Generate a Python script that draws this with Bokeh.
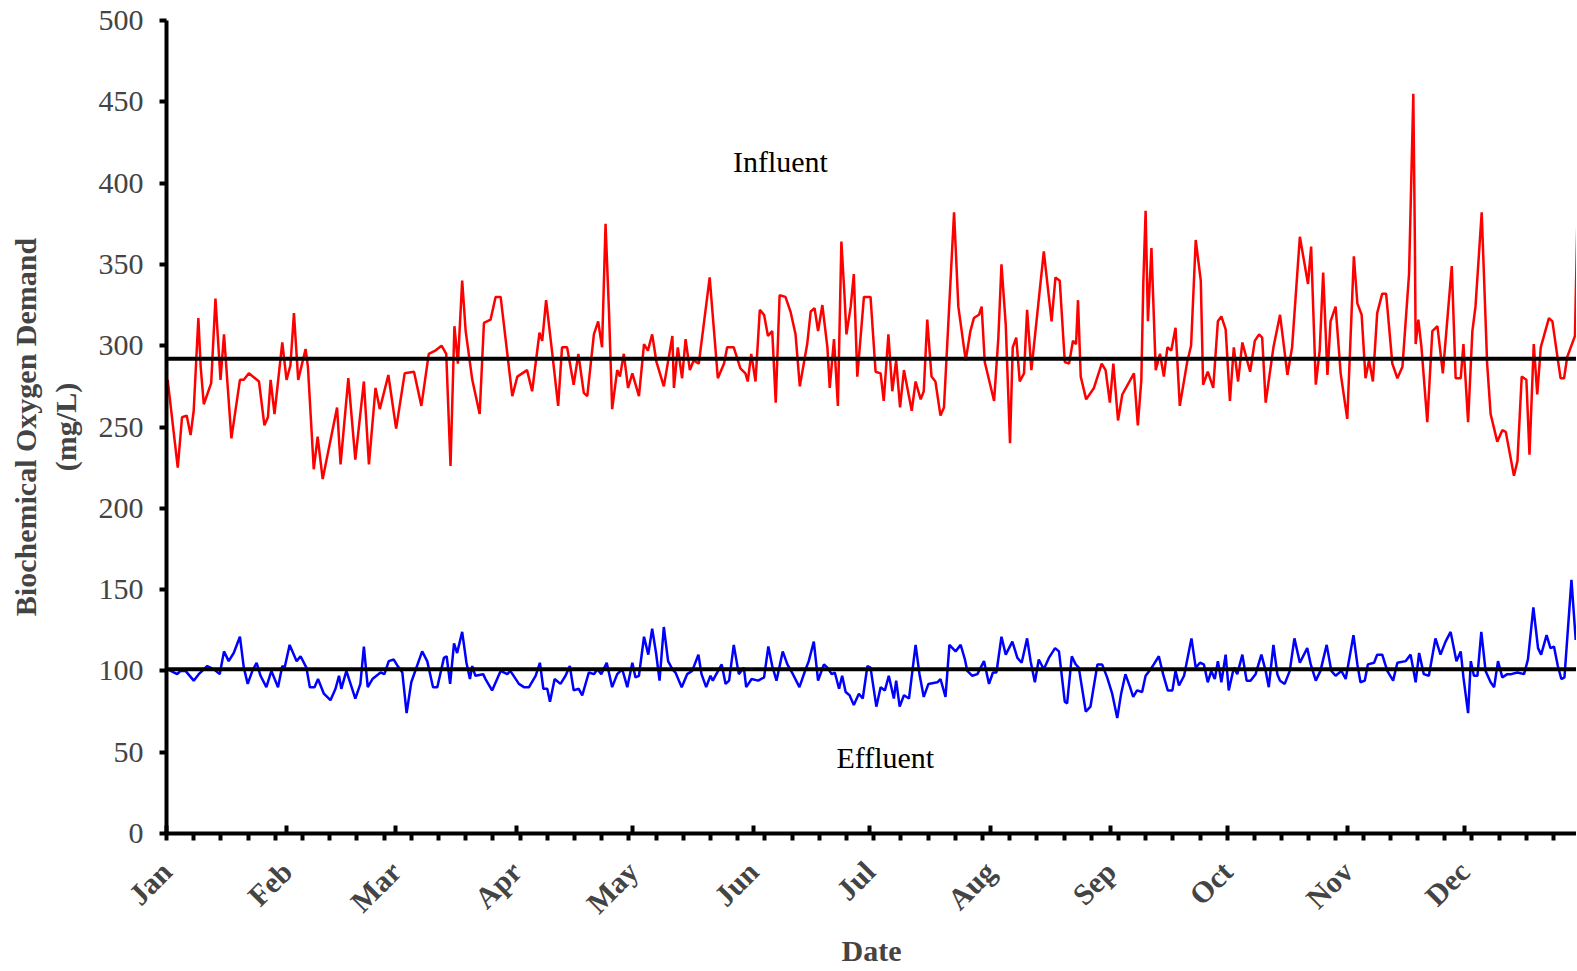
import math
from bokeh.plotting import figure
from bokeh.models import FixedTicker, Span, Label, Range1d
from bokeh.embed import file_html
from bokeh.resources import INLINE

months = ["Jan", "Feb", "Mar", "Apr", "May", "Jun", "Jul", "Aug", "Sep", "Oct", "Nov", "Dec"]
month_start_days = [0, 31, 59, 90, 120, 151, 181, 212, 243, 273, 304, 334]
week_days = list(range(0, 365, 7))
y_ticks = list(range(0, 501, 50))

influent_mean = 292
effluent_mean = 101

influent_day = [
    0.3, 2.9, 4.0, 5.2, 6.2, 7.0, 8.2, 8.8, 9.6, 11.5, 12.6, 13.9, 14.8, 16.7, 18.9, 19.9,
    21.2, 23.8, 25.2, 26.1, 26.8, 27.8, 29.8, 30.9, 31.9, 32.8, 33.9, 35.8, 36.4, 37.9, 38.9,
    40.2, 43.9, 44.8, 46.8, 48.6, 50.8, 52.1, 53.8, 54.9, 57.1, 59.1, 61.3, 63.7, 65.6, 67.5,
    69.2, 70.8, 72.0, 73.1, 74.1, 75.0, 76.1, 77.0, 78.7, 80.6, 81.7, 83.4, 84.7, 86.0, 89.0,
    90.3, 92.8, 94.1, 96.0, 96.7, 97.7, 99.3, 100.8, 101.8, 103.1, 104.8, 106.0, 107.4, 108.3,
    110.0, 111.1, 112.1, 113.0, 113.9, 114.7, 116.0, 116.7, 117.7, 118.8, 119.9, 121.6, 122.9,
    123.9, 125.0, 126.1, 128.0, 129.0, 130.2, 130.6, 131.6, 132.7, 133.6, 134.7, 135.7, 137.0,
    139.8, 141.9, 143.5, 144.3, 146.0, 147.7, 149.0, 149.6, 150.5, 151.6, 152.7, 153.8, 154.8,
    155.9, 156.8, 157.8, 159.3, 160.6, 161.9, 163.0, 164.9, 165.8, 166.8, 167.7, 168.8, 170.1,
    170.7, 171.8, 172.8, 173.7, 174.5, 175.0, 176.1, 176.9, 177.8, 179.5, 181.2, 182.5, 183.8,
    184.6, 185.8, 186.8, 187.8, 188.8, 189.8, 191.8, 192.8, 194.1, 194.9, 195.8, 196.9, 197.9,
    199.2, 200.1, 202.7, 203.1, 203.8, 205.7, 206.9, 207.8, 209.1, 209.8, 210.6, 213.0, 214.1,
    214.9, 216.0, 217.1, 217.8, 218.7, 219.6, 220.7, 221.5, 222.6, 225.8, 227.8, 228.8, 229.9,
    231.2, 232.3, 233.3, 234.1, 234.6, 235.3, 236.7, 238.7, 240.7, 241.7, 242.8, 243.7, 244.9,
    246.0, 249.0, 250.0, 250.9, 251.4, 252.0, 252.6, 253.5, 254.6, 255.7, 256.7, 257.6, 258.6,
    259.7, 260.8, 262.7, 263.7, 264.9, 266.2, 266.8, 268.0, 269.4, 270.6, 271.5, 272.6, 273.7,
    274.7, 275.8, 276.9, 278.9, 280.1, 281.2, 282.0, 282.9, 284.9, 286.6, 288.5, 289.7, 291.7,
    293.8, 294.6, 295.8, 296.8, 297.7, 298.8, 299.6, 300.9, 302.2, 303.9, 305.6, 306.5, 307.6,
    308.6, 309.5, 310.5, 311.6, 312.9, 313.9, 315.5, 316.8, 318.1, 319.8, 320.9, 321.3, 321.5,
    322.2, 323.0, 324.5, 325.8, 327.1, 328.5, 330.8, 331.8, 333.1, 333.8, 335.0, 336.1, 336.9,
    338.5, 339.9, 340.8, 342.5, 343.8, 344.7, 346.8, 347.7, 348.8, 350.0, 350.8, 351.9, 352.8,
    353.7, 355.8, 356.7, 358.0, 358.8, 359.7, 360.5, 362.5, 363.4,
]
influent_bod = [
    279, 225, 256, 257, 245, 260, 317, 287, 264, 277, 329, 279, 307, 243, 279, 279,
    283, 278, 251, 256, 279, 258, 302, 279, 288, 320, 279, 298, 287, 224, 244,
    218, 262, 227, 280, 230, 278, 227, 274, 261, 282, 249, 283, 284, 263, 295,
    297, 300, 295, 226, 312, 289, 340, 309, 279, 258, 314, 316, 330, 330, 269,
    281, 285, 272, 308, 303, 328, 295, 263, 299, 299, 276, 295, 271, 269,
    307, 315, 299, 375, 320, 261, 285, 281, 295, 274, 283, 269, 301,
    297, 307, 290, 275, 289, 306, 274, 299, 280, 304, 285, 291, 289,
    342, 280, 289, 299, 299, 286, 283, 278, 295, 278, 322, 319, 306,
    309, 265, 331, 330, 321, 307, 275, 301, 321, 323, 309, 325, 299,
    274, 304, 263, 364, 331, 307, 324, 344, 281, 330, 330, 284, 283,
    266, 307, 272, 291, 262, 285, 260, 278, 267, 272, 316, 281, 278,
    257, 262, 382, 361, 324, 291, 309, 317, 319, 324, 290, 266, 305,
    350, 313, 240, 299, 305, 278, 283, 322, 285, 358, 315, 342, 340,
    290, 289, 303, 301, 328, 281, 267, 274, 289, 285, 265, 289, 254,
    270, 283, 251, 279, 338, 383, 315, 360, 285, 295, 281, 299, 297,
    311, 263, 290, 300, 365, 340, 276, 284, 274, 315, 318, 310, 266,
    299, 278, 302, 284, 303, 307, 305, 265, 299, 319, 282, 299, 367,
    338, 361, 276, 297, 345, 282, 315, 324, 283, 255, 355, 326, 319,
    280, 291, 278, 320, 332, 332, 289, 280, 287, 344, 455, 365, 301,
    316, 299, 253, 309, 312, 283, 349, 280, 280, 301, 253, 309, 324,
    382, 289, 258, 241, 248, 247, 220, 229, 281, 279, 233, 301, 270,
    299, 317, 315, 293, 280, 280, 293, 306, 408,
]

effluent_day = [
    0.3, 2.75, 3.6, 4.9, 7.0, 8.3, 10.5, 12.2, 13.7, 14.8, 16.0, 17.3, 18.9, 19.9, 20.9,
    22.1, 23.2, 24.2, 25.7, 27.0, 28.7, 29.8, 30.4, 31.7, 33.5, 34.5, 36.0, 36.9, 38.1, 39.0,
    40.5, 42.2, 43.5, 44.4, 45.0, 46.3, 48.6, 49.9, 50.8, 51.8, 53.0, 55.1, 56.1, 57.2, 58.5,
    59.5, 60.7, 61.8, 63.0, 65.8, 67.1, 68.6, 69.7, 71.4, 72.1, 73.0, 74.0, 74.8, 76.1, 77.2,
    78.1, 78.7, 79.5, 81.5, 82.1, 83.8, 86.0, 87.7, 88.5, 90.7, 92.0, 93.3, 95.0, 96.1, 97.0,
    98.0, 98.7, 99.9, 101.4, 102.7, 103.8, 104.8, 106.1, 107.0, 108.7, 110.0, 110.9, 111.9,
    113.3, 114.7, 116.0, 117.3, 118.6, 119.9, 120.7, 121.6, 122.9, 124.0, 125.0, 126.0, 126.9,
    128.0, 129.1, 130.2, 131.0, 132.6, 134.0, 135.3, 136.9, 137.7, 138.9, 140.0, 140.6, 141.5,
    142.9, 143.9, 144.8, 146.0, 147.3, 148.6, 149.2, 150.6, 152.3, 153.8, 154.9, 155.9, 157.0,
    158.6, 159.8, 161.0, 162.9, 164.5, 165.3, 166.6, 167.7, 169.2, 170.1, 171.2, 172.0, 173.1,
    173.9, 174.8, 175.8, 176.9, 178.2, 179.2, 180.4, 181.2, 182.7, 183.8, 184.9, 185.9, 187.2,
    187.8, 188.7, 189.8, 191.1, 192.8, 193.8, 194.9, 196.1, 198.4, 199.2, 200.5, 201.5, 203.1,
    204.4, 205.5, 206.1, 207.4, 208.7, 210.4, 211.7, 212.7, 213.6, 214.9, 216.0, 217.7, 219.0,
    220.1, 221.5, 222.4, 223.5, 224.5, 225.8, 227.1, 228.7, 229.7, 231.2, 231.8, 233.0, 234.0,
    234.8, 236.6, 237.8, 239.6, 240.8, 242.1, 243.4, 244.7, 245.7, 246.8, 248.0, 248.8, 249.8,
    251.1, 252.0, 253.3, 254.1, 255.4, 256.5, 257.7, 258.9, 259.7, 260.6, 261.9, 263.8, 264.9,
    266.0, 267.0, 268.0, 268.9, 269.8, 270.6, 271.5, 272.6, 273.4, 274.7, 275.6, 276.9, 278.0,
    279.0, 280.3, 281.8, 282.9, 283.7, 284.9, 285.9, 286.6, 287.8, 289.1, 290.3, 291.7, 293.6,
    294.5, 295.8, 297.0, 298.6, 299.8, 300.9, 302.4, 303.5, 305.5, 306.5, 307.3, 308.4, 309.2,
    310.8, 311.6, 312.9, 314.2, 315.7, 316.8, 318.9, 320.2, 321.5, 322.4, 323.6, 324.9, 326.6,
    327.9, 329.2, 330.5, 332.0, 333.1, 333.8, 335.0, 335.7, 336.5, 337.4, 338.4, 339.5, 340.8,
    341.7, 342.7, 343.8, 345.1, 346.1, 347.7, 349.4, 350.4, 351.8, 353.0, 353.8, 355.2, 356.2,
    357.1, 358.1, 359.0, 359.8, 361.6, 362.7,
]
effluent_bod = [
    101, 98, 100, 100, 94, 98, 103, 101, 98, 112, 106, 111, 121, 102, 92,
    100, 105, 97, 90, 100, 90, 103, 102, 116, 106, 109, 102, 90, 90, 95,
    86, 82, 89, 97, 89, 100, 83, 92, 115, 90, 95, 99, 98, 106, 107,
    103, 99, 74, 93, 112, 106, 90, 90, 108, 109, 92, 117, 111, 124, 105,
    95, 103, 97, 98, 95, 88, 100, 98, 100, 92, 90, 90, 97, 105, 89,
    89, 81, 95, 92, 97, 103, 88, 89, 85, 99, 98, 101, 98,
    105, 90, 98, 101, 90, 105, 96, 97, 121, 110, 126, 111, 94,
    127, 106, 101, 99, 90, 98, 100, 110, 98, 90, 97, 94, 98,
    104, 92, 94, 116, 98, 102, 90, 95, 94, 96, 115, 103, 94,
    112, 104, 99, 90, 101, 106, 118, 94, 104, 102, 98, 99, 89,
    97, 87, 85, 79, 86, 83, 103, 102, 78, 90, 88, 97, 83,
    94, 78, 85, 83, 116, 98, 84, 92, 93, 95, 84, 116, 112,
    116, 107, 100, 97, 98, 106, 92, 99, 99, 121, 110, 118, 108,
    105, 120, 106, 93, 107, 101, 108, 114, 112, 81, 80, 109, 104,
    102, 75, 78, 104, 104, 96, 86, 71, 86, 98, 90, 84, 88,
    87, 97, 101, 104, 109, 98, 88, 88, 100, 91, 97, 120, 102,
    105, 104, 93, 100, 95, 106, 93, 110, 88, 102, 98, 110, 94,
    94, 98, 110, 100, 90, 116, 98, 94, 92, 100, 120, 105, 114,
    104, 94, 100, 116, 100, 97, 100, 95, 122, 104, 93, 94, 104,
    105, 110, 110, 100, 94, 105, 106, 110, 93, 111, 98, 97, 120,
    110, 118, 124, 106, 112, 96, 74, 106, 97, 97, 124, 100, 93,
    90, 106, 96, 98, 98, 99, 98, 107, 139, 114, 110, 122, 114,
    115, 103, 95, 96, 156, 119,
]

FONT = "Liberation Serif"

p = figure(
    width=1576, height=970,
    x_range=Range1d(0, 362.9), y_range=Range1d(0, 500),
    output_backend="svg", toolbar_location=None,
    min_border_left=166, min_border_right=0, min_border_top=20, min_border_bottom=137,
)
p.outline_line_color = None
p.xgrid.visible = False
p.ygrid.visible = False
p.background_fill_color = "white"
p.border_fill_color = "white"

p.line(influent_day, influent_bod, line_color="#FF0000", line_width=2.5)
p.line(effluent_day, effluent_bod, line_color="#0000FF", line_width=2.5)

p.add_layout(Span(location=influent_mean, dimension="width", line_color="black", line_width=4))
p.add_layout(Span(location=effluent_mean, dimension="width", line_color="black", line_width=4))

p.add_layout(Label(x=158, y=413, text="Influent", text_align="center", text_baseline="middle",
                   text_font=FONT, text_font_size="30px", text_color="black"))
p.add_layout(Label(x=185, y=47, text="Effluent", text_align="center", text_baseline="middle",
                   text_font=FONT, text_font_size="30px", text_color="black"))

xa = p.xaxis[0]
xa.ticker = FixedTicker(ticks=month_start_days, minor_ticks=week_days)
xa.major_label_overrides = dict(zip(month_start_days, months))
xa.major_tick_in = 8
xa.major_tick_out = 0
xa.minor_tick_in = 0
xa.minor_tick_out = 7
xa.major_tick_line_width = 4
xa.minor_tick_line_width = 4
xa.axis_line_width = 4
xa.major_label_orientation = math.pi / 4
xa.major_label_text_font = FONT
xa.major_label_text_font_style = "bold"
xa.major_label_text_font_size = "30px"
xa.major_label_standoff = 26
xa.axis_label = "Date"
xa.axis_label_text_font = FONT
xa.axis_label_text_font_style = "bold"
xa.axis_label_text_font_size = "30px"
xa.axis_label_standoff = 0

ya = p.yaxis[0]
ya.ticker = FixedTicker(ticks=y_ticks)
ya.major_tick_in = 0
ya.major_tick_out = 7
ya.minor_tick_out = 0
ya.minor_tick_in = 0
ya.major_tick_line_width = 4
ya.axis_line_width = 4
ya.major_label_text_font = FONT
ya.major_label_text_font_size = "30px"
ya.major_label_standoff = 16
ya.axis_label = "Biochemical Oxygen Demand\n(mg/L)"
ya.axis_label_text_font = FONT
ya.axis_label_text_font_style = "bold"
ya.axis_label_text_font_size = "30px"
ya.axis_label_standoff = 14

open("out.html", "w").write(file_html(p, INLINE))
